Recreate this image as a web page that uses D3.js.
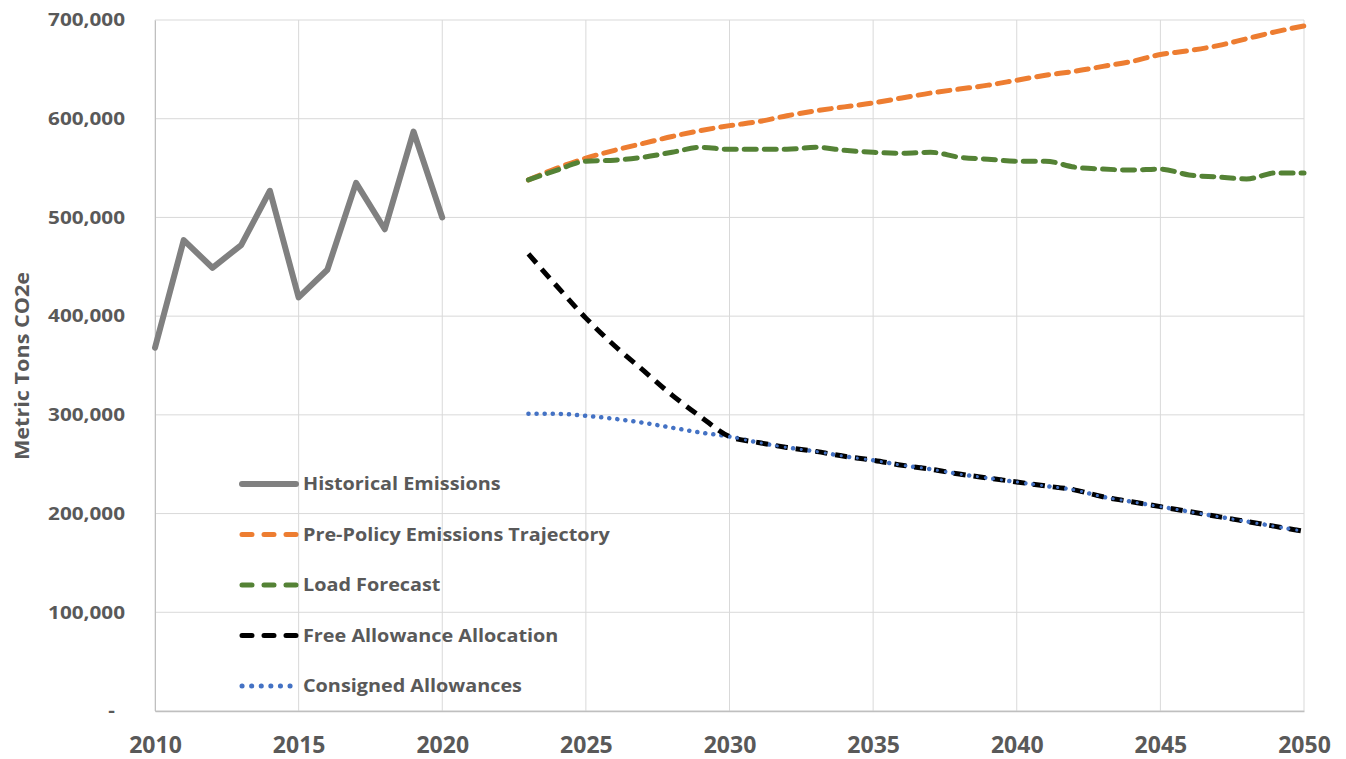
<!DOCTYPE html>
<html>
<head>
<meta charset="utf-8">
<script src="https://cdn.jsdelivr.net/npm/d3@7"></script>
<style>
  body { margin: 0; background: #fff; }
  svg text { font-family: "Open Sans", "Noto Sans", sans-serif; font-weight: bold; fill: #595959; }
</style>
</head>
<body>
<svg id="chart" width="1346" height="759"></svg>
<script>
// values in thousands of metric tons CO2e
var histYears = d3.range(2010, 2021);
var historical = [368, 477, 449, 472, 527, 419, 447, 535, 488, 587, 500];

var projYears = d3.range(2023, 2051);
var prePolicy = [538, 550, 560, 568, 575, 582, 588, 593, 597, 603, 608, 612, 616, 621,
                 626, 630, 634, 639, 644, 648, 653, 658, 665, 669, 674, 681, 688, 694];
var loadForecast = [538, 548, 557, 558, 561, 566, 571, 569, 569, 569, 571, 568, 566, 565,
                    566, 561, 559, 557, 557, 551, 549, 548, 549, 543, 541, 539, 545, 545];
var freeAllowance = [463, 430, 398, 370, 345, 320, 298, 278, 272, 267, 263, 258, 254, 249,
                     245, 240, 236, 232, 228, 224, 217, 212, 207, 202, 197, 192, 187, 182];
var consigned = [301, 301, 299, 296, 292, 287, 282, 278, 272, 267, 263, 258, 254, 249,
                 245, 240, 236, 232, 228, 224, 217, 212, 207, 202, 197, 192, 187, 182];

var xTicks = d3.range(2010, 2051, 5);
var yTicks = d3.range(0, 700001, 100000);

var svg = d3.select("#chart");
var margin = {top: 20, right: 42, bottom: 48, left: 155},
    width = +svg.attr("width") - margin.left - margin.right,
    height = +svg.attr("height") - margin.top - margin.bottom,
    g = svg.append("g").attr("transform", "translate(" + margin.left + "," + margin.top + ")");

var x = d3.scaleLinear().domain([2010, 2050]).range([0, width]);
var y = d3.scaleLinear().domain([0, 700000]).range([height, 0]);

// the original font is wider than what we have, so stretch text a bit
function stretch(sel, k) {
  sel.each(function() {
    var w = this.getComputedTextLength();
    d3.select(this).attr("textLength", w * k).attr("lengthAdjust", "spacingAndGlyphs");
  });
}

// gridlines
g.append("g")
  .selectAll("line.h")
  .data(yTicks)
  .enter().append("line")
    .attr("x1", 0).attr("x2", width)
    .attr("y1", function(d) { return y(d); })
    .attr("y2", function(d) { return y(d); })
    .attr("stroke", "#d9d9d9").attr("stroke-width", 1);
g.append("g")
  .selectAll("line.v")
  .data(xTicks)
  .enter().append("line")
    .attr("x1", function(d) { return x(d); })
    .attr("x2", function(d) { return x(d); })
    .attr("y1", 0).attr("y2", height)
    .attr("stroke", "#d9d9d9").attr("stroke-width", 1);

// axes
var yAxis = g.append("g")
  .call(d3.axisLeft(y).tickValues(yTicks).tickSize(0).tickPadding(30)
    .tickFormat(function(d) { return d === 0 ? "-" : d3.format(",")(d); }));
yAxis.select(".domain").attr("stroke", "#bfbfbf");
yAxis.selectAll("text").style("font-size", "18px");
stretch(yAxis.selectAll("text"), 1.15);
yAxis.selectAll(".tick").filter(function(d) { return d === 0; }).select("text").attr("dx", -10);

var xAxis = g.append("g")
  .attr("transform", "translate(0," + height + ")")
  .call(d3.axisBottom(x).tickValues(xTicks).tickSize(0).tickPadding(26).tickFormat(d3.format("d")));
xAxis.select(".domain").attr("stroke", "#bfbfbf").attr("stroke-width", 1.5);
xAxis.selectAll("text").style("font-size", "23px");

var yTitle = svg.append("text")
  .attr("transform", "translate(29," + 366 + ") rotate(-90)")
  .attr("text-anchor", "middle")
  .style("font-size", "20px")
  .text("Metric Tons CO2e");
stretch(yTitle, 1.08);

function series(years, vals) {
  return vals.map(function(v, i) { return {year: years[i], value: v * 1000}; });
}

var line = d3.line()
  .x(function(d) { return x(d.year); })
  .y(function(d) { return y(d.value); })
  .curve(d3.curveMonotoneX);

var straight = d3.line()
  .x(function(d) { return x(d.year); })
  .y(function(d) { return y(d.value); });

var lines = [
  {name: "Historical Emissions", data: series(histYears, historical), color: "#808080", dash: null, cap: "round", gen: straight, w: 6},
  {name: "Pre-Policy Emissions Trajectory", data: series(projYears, prePolicy), color: "#ED7D31", dash: "12,8", cap: "round", gen: line, w: 5},
  {name: "Load Forecast", data: series(projYears, loadForecast), color: "#548235", dash: "12,8", cap: "round", gen: line, w: 5},
  {name: "Consigned Allowances", data: series(projYears, consigned), color: "#4472C4", dash: "0.1,8", cap: "round", gen: line, w: 4.5},
  {name: "Free Allowance Allocation", data: series(projYears, freeAllowance), color: "#000000", dash: "12,8", cap: "butt", gen: line, w: 5}
];

lines.forEach(function(s) {
  g.append("path")
    .datum(s.data)
    .attr("fill", "none")
    .attr("stroke", s.color)
    .attr("stroke-width", s.w)
    .attr("stroke-linejoin", "round")
    .attr("stroke-linecap", s.cap)
    .attr("stroke-dasharray", s.dash)
    .attr("d", s.gen);
});

// the consigned dots sit on top of the black dashes after 2030
g.append("path")
  .datum(series(projYears, consigned).filter(function(d) { return d.year >= 2030; }))
  .attr("fill", "none")
  .attr("stroke", "#4472C4")
  .attr("stroke-width", 3)
  .attr("stroke-linecap", "round")
  .attr("stroke-dasharray", "0.1,8")
  .attr("d", line);

// legend
var legendOrder = ["Historical Emissions", "Pre-Policy Emissions Trajectory", "Load Forecast",
                   "Free Allowance Allocation", "Consigned Allowances"];
var legend = svg.append("g").attr("transform", "translate(240,484)");
legendOrder.forEach(function(name, i) {
  var s = lines.filter(function(l) { return l.name === name; })[0];
  var row = legend.append("g").attr("transform", "translate(0," + (i * 50.5) + ")");
  row.append("line")
    .attr("x1", 2).attr("x2", 56).attr("y1", 0).attr("y2", 0)
    .attr("stroke", s.color)
    .attr("stroke-width", s.w === 6 ? 6 : 5)
    .attr("stroke-linecap", "round")
    .attr("stroke-dasharray", s.dash ? (name === "Consigned Allowances" ? "0.1,9.5" : "10,12") : null);
  var t = row.append("text")
    .attr("x", 63).attr("dy", "0.35em")
    .style("font-size", "18.5px")
    .text(name);
  stretch(t, 1.07);
});
</script>
</body>
</html>
